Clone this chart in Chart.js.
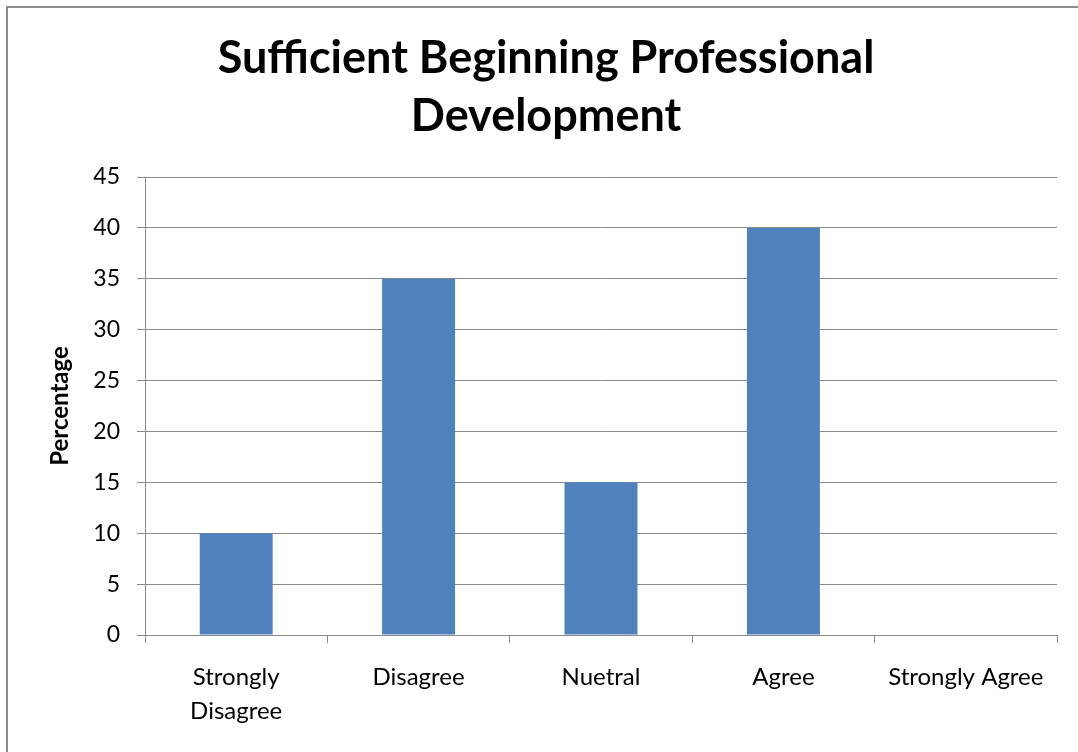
<!DOCTYPE html>
<html>
<head>
<meta charset="utf-8">
<title>Sufficient Beginning Professional Development</title>
<script src="https://cdn.jsdelivr.net/npm/chart.js@4.4.0/dist/chart.umd.min.js"></script>
<style>
    html, body { margin: 0; padding: 0; background: #fff; overflow: hidden; }
    .wrap { position: relative; width: 1078px; height: 752px; }
    .frame { position: absolute; left: 6px; top: 6px; width: 1100px; height: 800px; border: 2px solid #8c8c8c; pointer-events: none; }
</style>
</head>
<body>
<div class="wrap">
    <canvas id="responseChart"></canvas>
    <div class="frame"></div>
</div>
<script>
(function () {
    'use strict';

    var categories = [['Strongly', 'Disagree'], 'Disagree', 'Nuetral', 'Agree', 'Strongly Agree'];
    var percentages = [10, 35, 15, 40, 0];
    var titleLines = ['Sufficient Beginning Professional', 'Development'];
    var yTicks = [0, 5, 10, 15, 20, 25, 30, 35, 40, 45];

    var fontFamily = 'Lato, "Open Sans", sans-serif';
    var lineGray = '#8a8a8a';

    // left padding chosen so the title centres where the reference has it
    var padLeft = 35;

    new Chart(document.getElementById('responseChart'), {
        type: 'bar',
        data: {
            labels: categories,
            datasets: [{ label: 'Percentage', data: percentages, backgroundColor: '#4f81bd', borderWidth: 0, barPercentage: 0.4, categoryPercentage: 1 }]
        },
        options: {
            responsive: true,
            maintainAspectRatio: false,
            animation: false,
            layout: { padding: { left: padLeft, right: 21, top: 0, bottom: 0 } },
            plugins: {
                legend: { display: false },
                tooltip: { enabled: false },
                title: {
                    display: true,
                    text: titleLines,
                    color: '#000',
                    font: { family: fontFamily, size: 45, weight: 'bold', lineHeight: 1.3 },
                    padding: { top: 29, bottom: 31 }
                }
            },
            scales: {
                x: {
                    grid: { offset: true, drawOnChartArea: false, drawTicks: true, tickLength: 8, color: lineGray, lineWidth: 1 },
                    border: { color: lineGray, width: 1 },
                    ticks: { color: '#000', padding: 17, maxRotation: 0, autoSkip: false, font: { family: fontFamily, size: 24, lineHeight: 1.42 } },
                    afterFit: function (scale) { scale.height = 117; }
                },
                y: {
                    min: 0,
                    max: 45,
                    afterBuildTicks: function (scale) { scale.ticks = yTicks.map(function (v) { return { value: v }; }); },
                    grid: { color: lineGray, lineWidth: 1, drawTicks: true, tickLength: 8 },
                    border: { color: lineGray, width: 1 },
                    ticks: { color: '#000', padding: 17, font: { family: fontFamily, size: 23 } },
                    title: { display: true, text: 'Percentage', color: '#000', font: { family: fontFamily, size: 24, weight: 'bold', lineHeight: 1.2 }, padding: { top: 11, bottom: 0 } },
                    afterFit: function (scale) { scale.width = 145 - padLeft; }
                }
            }
        }
    });
}());
</script>
</body>
</html>
